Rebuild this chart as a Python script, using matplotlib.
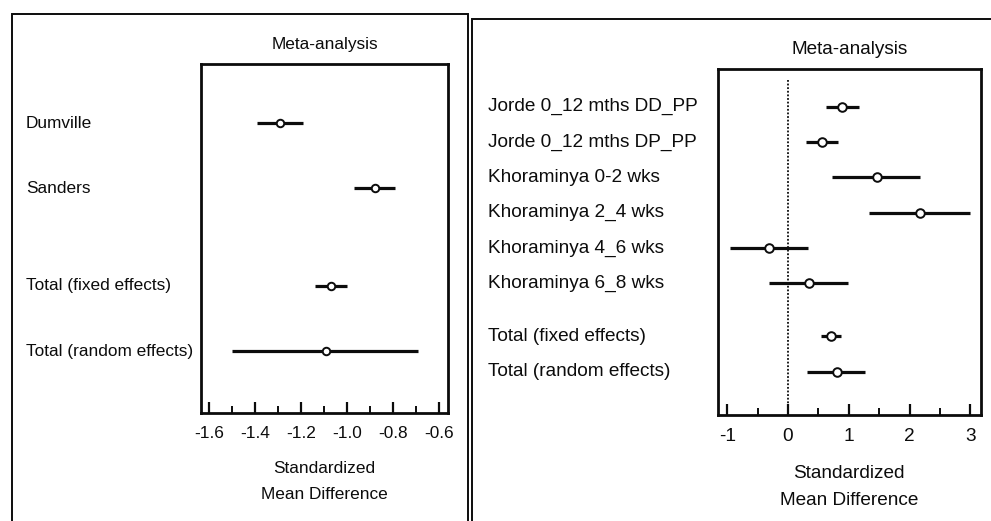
import matplotlib
matplotlib.use("Agg")
import matplotlib.pyplot as plt
from matplotlib.transforms import blended_transform_factory
from matplotlib.patches import Rectangle
from matplotlib.ticker import MultipleLocator

# ---- data ----
left_labels = ["Dumville", "Sanders", "Total (fixed effects)", "Total (random effects)"]
left_rows = [0, 1, 2.5, 3.5]
left_est = [-1.29, -0.88, -1.07, -1.09]
left_lo = [-1.39, -0.97, -1.14, -1.50]
left_hi = [-1.19, -0.79, -1.00, -0.69]
left_ticks = [-1.6, -1.4, -1.2, -1.0, -0.8, -0.6]
left_ticklabels = ["-1.6", "-1.4", "-1.2", "-1.0", "-0.8", "-0.6"]

right_labels = ["Jorde 0_12 mths DD_PP", "Jorde 0_12 mths DP_PP", "Khoraminya 0-2 wks",
                "Khoraminya 2_4 wks", "Khoraminya 4_6 wks", "Khoraminya 6_8 wks",
                "Total (fixed effects)", "Total (random effects)"]
right_rows = [0, 1, 2, 3, 4, 5, 6.5, 7.5]
right_est = [0.89, 0.56, 1.46, 2.18, -0.31, 0.34, 0.71, 0.80]
right_lo = [0.62, 0.29, 0.73, 1.34, -0.96, -0.31, 0.55, 0.31]
right_hi = [1.16, 0.82, 2.18, 3.00, 0.33, 0.98, 0.87, 1.27]
right_ticks = [-1, 0, 1, 2, 3]
right_ticklabels = ["-1", "0", "1", "2", "3"]

W, H = 991, 521
fig = plt.figure(figsize=(W / 100, H / 100), dpi=100)
fig.patch.set_facecolor("white")
ink = "#0c0c0c"

fam = ["Liberation Sans", "DejaVu Sans"]

def px(x0, y0, x1, y1):
    return [x0 / W, 1 - y1 / H, (x1 - x0) / W, (y1 - y0) / H]

# outer panel frames
fig.patches.append(Rectangle((12 / W, -0.05), (468 - 12) / W, 1 - 14 / H + 0.05,
                             transform=fig.transFigure, fill=False, lw=1.4, ec=ink))
fig.patches.append(Rectangle((472 / W, -0.05), 0.6, 1 - 19 / H + 0.05,
                             transform=fig.transFigure, fill=False, lw=1.4, ec=ink))

def panel(rect, labels, rows, est, lo, hi, ticks, ticklabels, xlim, ylim, minor,
          label_x, fs, lsp, ms, zero_line=None):
    ax = fig.add_axes(rect)
    for s in ax.spines.values():
        s.set_linewidth(2.0)
        s.set_color(ink)
    ax.hlines(rows, lo, hi, color=ink, lw=2.3, zorder=2)
    ax.plot(est, rows, "o", ms=ms, mfc="white", mec=ink, mew=1.4, zorder=3)
    if zero_line is not None:
        ax.vlines(0, zero_line, ylim[0], color=ink, lw=1.3, ls=(0, (1, 1)), zorder=1)
    ax.set_xlim(*xlim)
    ax.set_ylim(*ylim)
    ax.set_yticks([])
    ax.set_xticks(ticks)
    ax.set_xticklabels(ticklabels, fontfamily=fam, fontsize=fs, color=ink)
    ax.xaxis.set_minor_locator(MultipleLocator(minor))
    ax.tick_params(axis="x", which="major", direction="in", length=8, width=1.6,
                   pad=9.5, colors=ink)
    ax.tick_params(axis="x", which="minor", direction="in", length=5, width=1.4, colors=ink)
    ax.set_title("Meta-analysis", fontfamily=fam, fontsize=fs, pad=11, color=ink)
    ax.set_xlabel("Standardized\nMean Difference", fontfamily=fam, fontsize=fs,
                  linespacing=lsp, labelpad=14, color=ink)
    tr = blended_transform_factory(fig.transFigure, ax.transData)
    for lab, r in zip(labels, rows):
        ax.text(label_x / W, r, lab, transform=tr, ha="left", va="center",
                fontfamily=fam, fontsize=fs, color=ink, clip_on=False)
    return ax

panel(px(201, 64, 448, 413), left_labels, left_rows, left_est, left_lo, left_hi,
      left_ticks, left_ticklabels, (-1.635, -0.561), (4.45, -0.906), 0.1,
      26, 12.4, 1.95, 5.4)
panel(px(717.7, 69, 980.7, 415), right_labels, right_rows, right_est, right_lo, right_hi,
      right_ticks, right_ticklabels, (-1.158, 3.171), (8.73, -1.07), 0.5,
      488, 13.7, 1.8, 6.2, zero_line=-0.76)

fig.savefig("out.png", dpi=100, facecolor="white")
